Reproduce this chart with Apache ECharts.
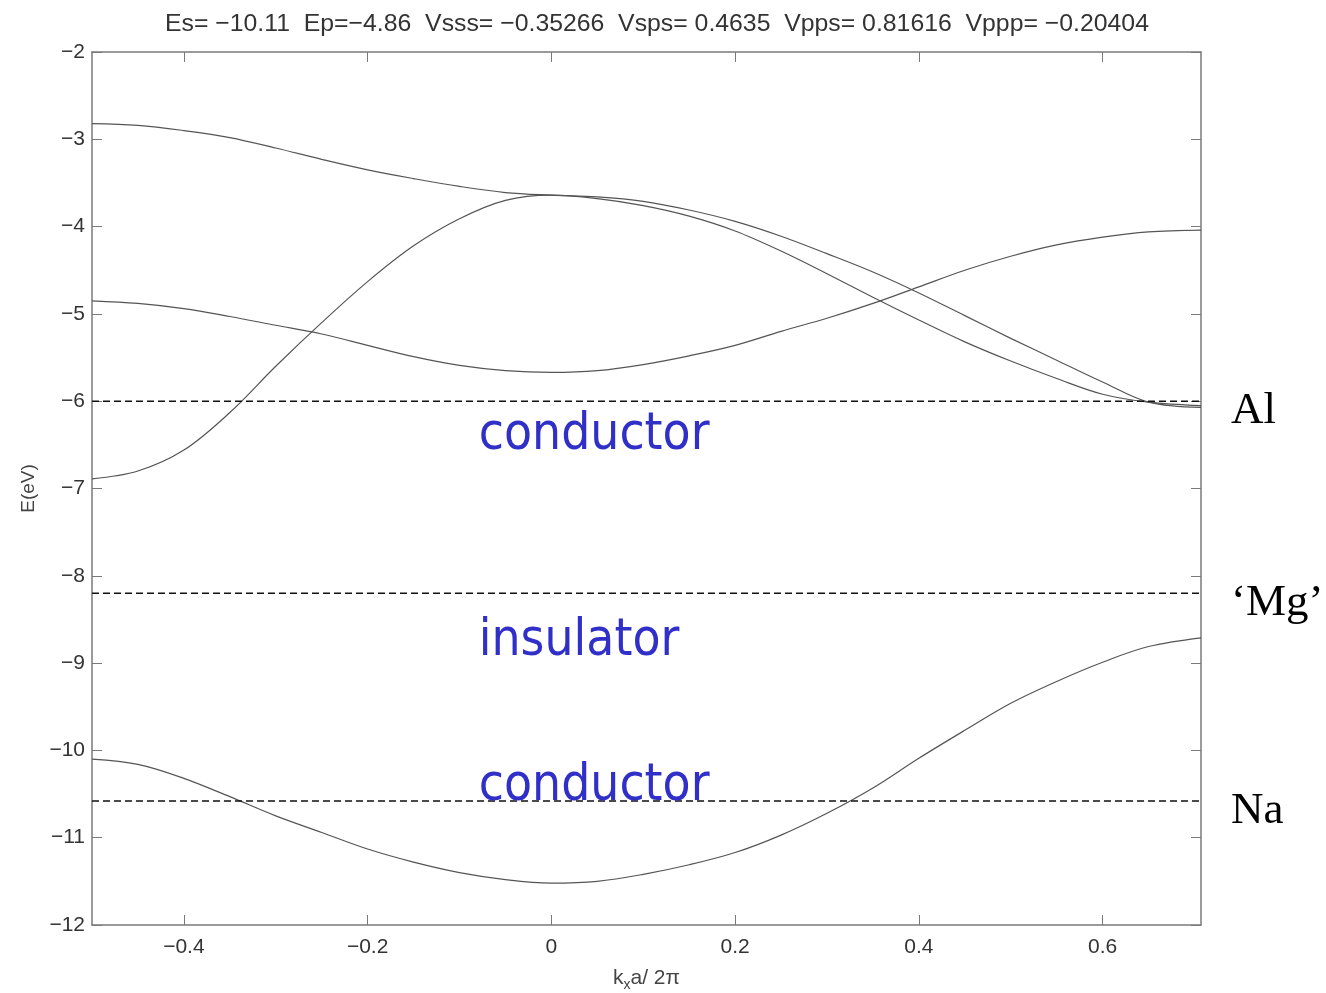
<!DOCTYPE html>
<html lang="en">
<head>
    <meta charset="UTF-8">
    <title>Band structure</title>
    <style>
        *{ margin: 0; padding: 0; }
        body{ background: #fff; }
        #chart{ width: 1326px; height: 993px; }
    </style>
    <script src="https://cdn.jsdelivr.net/npm/echarts@6/dist/echarts.min.js"></script>
</head>
<body>
    <div id="chart"></div>
    <script>
        // k_x a / 2pi sample points
        var kx = [-0.5, -0.45, -0.4, -0.35, -0.3, -0.25, -0.2, -0.15, -0.1, -0.05, 0,
                  0.05, 0.1, 0.15, 0.2, 0.25, 0.3, 0.35, 0.4, 0.45, 0.5, 0.55, 0.6, 0.65, 0.7071];

        // energies (eV)
        var bandS = [-10.10, -10.16, -10.32, -10.53, -10.75, -10.94, -11.13, -11.28, -11.40, -11.48, -11.52,
                     -11.50, -11.42, -11.31, -11.17, -10.97, -10.72, -10.43, -10.09, -9.77, -9.46, -9.21, -8.99, -8.81, -8.71];
        var bandB = [-6.89, -6.80, -6.56, -6.13, -5.60, -5.10, -4.63, -4.22, -3.91, -3.70, -3.64,
                     -3.68, -3.76, -3.88, -4.05, -4.28, -4.54, -4.81, -5.07, -5.32, -5.54, -5.74, -5.92, -6.01, -6.05];
        var bandA = [-2.82, -2.84, -2.90, -2.98, -3.10, -3.23, -3.35, -3.45, -3.54, -3.61, -3.64,
                     -3.66, -3.71, -3.81, -3.94, -4.11, -4.31, -4.52, -4.76, -5.02, -5.28, -5.53, -5.78, -6.01, -6.07];
        var bandC = [-4.85, -4.88, -4.94, -5.03, -5.13, -5.23, -5.36, -5.49, -5.59, -5.65, -5.67,
                     -5.65, -5.58, -5.48, -5.36, -5.20, -5.05, -4.88, -4.69, -4.50, -4.34, -4.21, -4.12, -4.06, -4.04];

        // fermi levels
        var levelNames = ['Al', '\u2018Mg\u2019', 'Na'];
        var levelValues = [-6.0, -8.2, -10.58];

        // region labels
        var regionNames = ['conductor', 'insulator', 'conductor'];
        var regionY = [-6.40, -8.75, -10.42];
        var regionX = -0.079;

        var xTicks = [-0.4, -0.2, 0, 0.2, 0.4, 0.6];

        var titleText = 'Es= \u221210.11  Ep=\u22124.86  Vsss= \u22120.35266  Vsps= 0.4635  Vpps= 0.81616  Vppp= \u22120.20404';

        function fmt(v){
            var s = String(Math.round(v * 10) / 10);
            return s.replace('-', '\u2212');
        }

        var myChart = echarts.init(document.getElementById('chart'));

        var series = [];
        [bandS, bandB, bandA, bandC].forEach(function(b, i){
            series.push({
                name: 'band' + i,
                type: 'line',
                data: kx.map(function(x, j){ return [x, b[j]]; }),
                smooth: 0.35,
                showSymbol: false,
                symbol: 'none',
                lineStyle: { color: '#555', width: 1.2 },
                z: 3
            });
        });

        levelValues.forEach(function(v, i){
            series.push({
                name: levelNames[i],
                type: 'line',
                data: [[-0.5, v], [0.705, v]],
                symbol: 'none',
                lineStyle: { color: '#111', width: 1.5, type: [7, 4] },
                endLabel: {
                    show: true,
                    formatter: levelNames[i],
                    offset: [24, 10],
                    fontFamily: "'Liberation Serif', 'Times New Roman', serif",
                    fontSize: 45,
                    color: '#000'
                },
                z: 4
            });
        });

        series.push({
            type: 'scatter',
            symbolSize: 0,
            itemStyle: { opacity: 1 },
            data: regionNames.map(function(n, i){ return [regionX, regionY[i], n]; }),
            label: {
                show: true,
                position: 'inside',
                align: 'left',
                verticalAlign: 'middle',
                formatter: function(p){ return p.data[2]; },
                fontFamily: "'DejaVu Sans Condensed', 'Noto Sans', sans-serif",
                fontSize: 51,
                color: '#3030c8',
                opacity: 1
            },
            z: 5
        });

        var axisGray = '#7a7a7a';

        var option = {
            animation: false,
            title: {
                text: titleText,
                left: 160,
                top: 7,
                textStyle: { fontFamily: "'Liberation Sans', Arial, sans-serif", fontSize: 24.8, fontWeight: 'normal', color: '#333' }
            },
            grid: { left: 92, right: 125, top: 52, bottom: 68, containLabel: false, outerBoundsMode: 'none' },
            xAxis: [{
                type: 'value',
                position: 'bottom',
                min: -0.5,
                max: 0.7071,
                name: 'k{sub|x}a/ 2\u03c0',
                nameLocation: 'middle',
                nameGap: 40,
                nameTextStyle: {
                    fontFamily: "'Liberation Sans', Arial, sans-serif",
                    fontSize: 21,
                    color: '#444',
                    rich: { sub: { fontSize: 14, color: '#444', verticalAlign: 'bottom', padding: [13, 0, 0, 0] } }
                },
                axisLine: { show: true, onZero: false, lineStyle: { color: axisGray, width: 1.5 } },
                axisTick: { show: true, inside: true, length: 10, customValues: xTicks, lineStyle: { color: axisGray } },
                axisLabel: {
                    customValues: xTicks,
                    formatter: fmt,
                    margin: 12,
                    fontFamily: "'Liberation Sans', Arial, sans-serif",
                    fontSize: 21,
                    color: '#333'
                },
                splitLine: { show: false }
            }, {
                type: 'value',
                position: 'top',
                min: -0.5,
                max: 0.7071,
                axisLine: { show: true, onZero: false, lineStyle: { color: axisGray, width: 1.5 } },
                axisTick: { show: true, inside: true, length: 10, customValues: xTicks, lineStyle: { color: axisGray } },
                axisLabel: { show: false },
                splitLine: { show: false }
            }],
            yAxis: [{
                type: 'value',
                position: 'left',
                min: -12,
                max: -2,
                interval: 1,
                name: 'E(eV)',
                nameLocation: 'middle',
                nameGap: 54,
                nameTextStyle: { fontFamily: "'Liberation Sans', Arial, sans-serif", fontSize: 19, color: '#444' },
                axisLine: { show: true, onZero: false, lineStyle: { color: axisGray, width: 1.5 } },
                axisTick: { show: true, inside: true, length: 10, lineStyle: { color: axisGray } },
                axisLabel: {
                    formatter: fmt,
                    margin: 7,
                    fontFamily: "'Liberation Sans', Arial, sans-serif",
                    fontSize: 21,
                    color: '#333'
                },
                splitLine: { show: false }
            }, {
                type: 'value',
                position: 'right',
                min: -12,
                max: -2,
                interval: 1,
                axisLine: { show: true, onZero: false, lineStyle: { color: axisGray, width: 1.5 } },
                axisTick: { show: true, inside: true, length: 10, lineStyle: { color: axisGray } },
                axisLabel: { show: false },
                splitLine: { show: false }
            }],
            series: series
        };

        myChart.setOption(option);
    </script>
</body>
</html>
